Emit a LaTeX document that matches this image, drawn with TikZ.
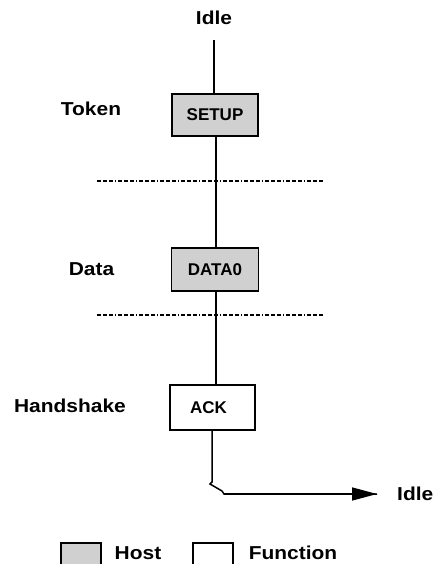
\documentclass[tikz,border=0pt]{standalone}
\usepackage{fontspec}
\setmainfont{Liberation Sans}
\newfontfamily\lblfont[FakeStretch=1.12]{Liberation Sans}
\usetikzlibrary{arrows.meta}
\definecolor{hostgray}{RGB}{208,208,208}
\tikzset{
  lbl/.style={font=\lblfont\fontsize{18.7}{20}\selectfont\bfseries, inner sep=0pt, anchor=center},
  boxtxt/.style={font=\fontsize{17}{19}\selectfont\bfseries},
  pkt/.style={draw, line width=1.5pt, boxtxt, inner sep=0pt},
  hostbox/.style={pkt, fill=hostgray},
  funcbox/.style={pkt, fill=white},
  wire/.style={line width=1.5pt},
  sep/.style={line width=1.2pt, dash pattern=on 4pt off 2pt on 4pt off 2pt on 4pt off 2pt on 1pt off 2pt}
}
\begin{document}
\begin{tikzpicture}[x=1pt,y=-1pt]
\useasboundingbox (0,0) rectangle (435,564);
\clip (0,0) rectangle (435,564);
\fill[white] (0,0) rectangle (435,564);
% labels
\node[lbl] (idletop) at (214,18) {Idle};
\node[lbl] (token) at (91,109) {Token};
\node[lbl] (data) at (91.5,269) {Data};
\node[lbl] (hand) at (70,406) {Handshake};
\node[lbl,anchor=west] (idleend) at (397,494) {Idle};
% packets
\node[hostbox, minimum width=86pt, minimum height=42pt] (setup) at (215,115) {SETUP};
\node[hostbox, minimum width=87pt, minimum height=43pt] (data0) at (215,269.5) {DATA0};
\node[funcbox, minimum width=85pt, minimum height=45pt] (ack) at (212.5,407.5) {\hspace*{-8pt}ACK};
% separators
\coordinate (s1a) at (97,181); \coordinate (s1b) at (324,181);
\coordinate (s2a) at (97,315); \coordinate (s2b) at (324,315);
\draw[sep] (s1a) -- (s1b);
\draw[sep] (s2a) -- (s2b);
% wires
\coordinate (topend) at (214,40);
\coordinate (midx) at (216,0);
\draw[wire] (topend) -- (setup.north -| topend);
\draw[wire] (setup.south -| midx) -- (data0.north -| midx);
\draw[wire] (data0.south -| midx) -- (ack.north -| midx);
\coordinate (brk1) at (212,482);
\coordinate (brk2) at (210,484);
\coordinate (brk3) at (222,491);
\coordinate (brk4) at (224,494);
\coordinate (tip) at (377,494);
\draw[wire] (ack.south -| brk1) -- (brk1) -- (brk2) -- (brk3) -- (brk4) -- (tip);
\draw[wire, -{Triangle[length=25pt,width=13pt]}] (brk4) -- (tip);
% legend
\node[hostbox, minimum width=40pt, minimum height=40pt, anchor=north west] (lhost) at (60,542) {};
\node[funcbox, minimum width=40pt, minimum height=40pt, anchor=north west] (lfunc) at (192,542) {};
\node[lbl] (thost) at (138,553) {Host};
\node[lbl] (tfunc) at (293,553) {Function};
\end{tikzpicture}
\end{document}
